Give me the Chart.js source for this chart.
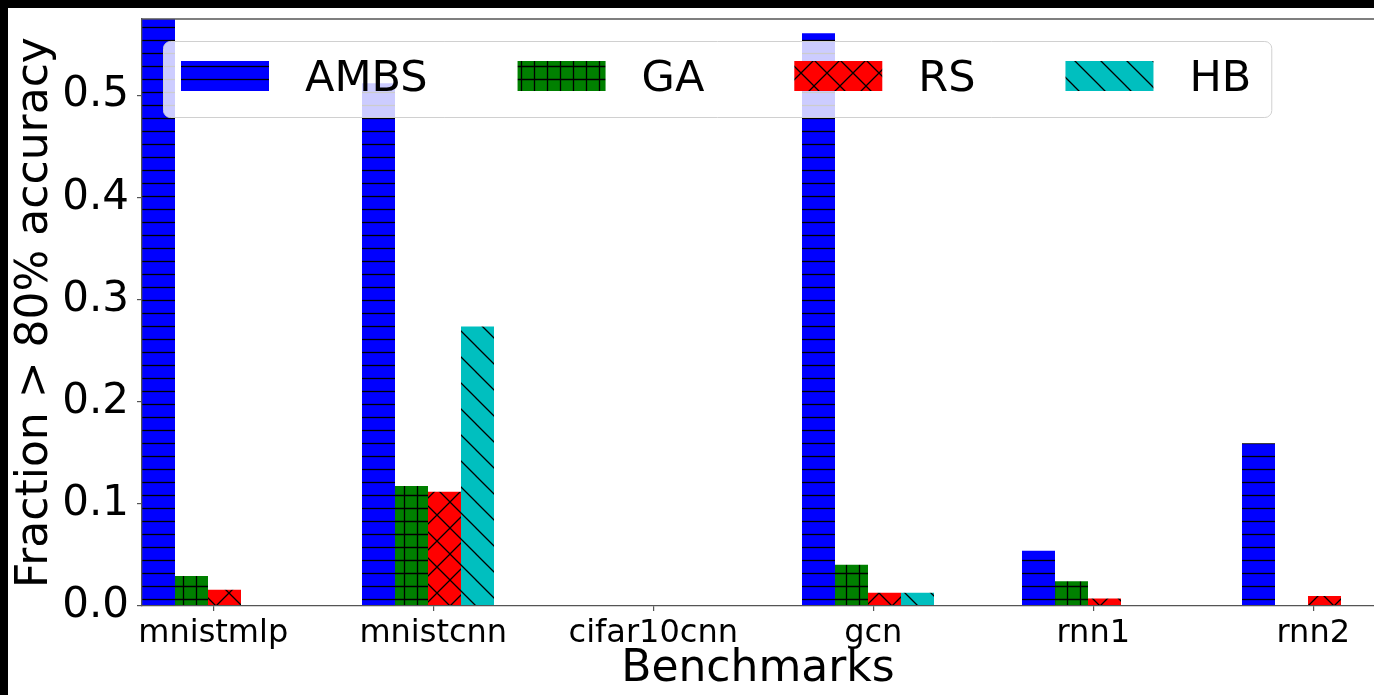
<!DOCTYPE html>
<html><head><meta charset="utf-8">
<script src="https://cdn.jsdelivr.net/npm/chart.js@4/dist/chart.umd.min.js"></script>
<style>
html,body{margin:0;padding:0;background:#000;overflow:hidden;width:100%;height:100%}
#wrap{position:absolute;left:8px;top:8px;width:1366px;height:687px;background:#fff}
canvas{display:block}
</style></head><body>
<div id="wrap"><canvas id="c" width="1366" height="687"></canvas></div>
<script>
const categories = ['mnistmlp', 'mnistcnn', 'cifar10cnn', 'gcn', 'rnn1', 'rnn2'];
const seriesNames = ['AMBS', 'GA', 'RS', 'HB'];
const ambs = [0.60, 0.512, 0, 0.561, 0.054, 0.1595];
const ga = [0.0295, 0.1176, 0, 0.0403, 0.0243, 0];
const rs = [0.0158, 0.1118, 0, 0.0131, 0.0073, 0.0099];
const hb = [0, 0.2737, 0, 0.0131, 0, 0];
const yTicks = [0, 0.1, 0.2, 0.3, 0.4, 0.5];
const yMax = 0.575;

function makePattern(color, kind) {
  const s = (kind === 'back' || kind === 'cross') ? 26 : 13;
  const c = document.createElement('canvas'); c.width = s; c.height = s;
  const g = c.getContext('2d');
  g.fillStyle = color; g.fillRect(0, 0, s, s);
  g.strokeStyle = '#000'; g.lineWidth = 1.3;
  g.beginPath();
  if (kind === 'h' || kind === 'grid') { g.moveTo(0, 6.5); g.lineTo(s, 6.5); }
  if (kind === 'grid') { g.moveTo(6.5, 0); g.lineTo(6.5, s); }
  if (kind === 'back' || kind === 'cross') {
    for (const k of [-s, 0, s]) { g.moveTo(k - 2, -2); g.lineTo(k + s + 2, s + 2); }
  }
  if (kind === 'cross') {
    for (const k of [-s, 0, s]) { g.moveTo(k - 2, s + 2); g.lineTo(k + s + 2, -2); }
  }
  g.stroke();
  return g.createPattern(c, 'repeat');
}
const fills = [makePattern('#0000ff', 'h'), makePattern('#008000', 'grid'), makePattern('#ff0000', 'cross'), makePattern('#00bfbf', 'back')];
const seriesValues = [ambs, ga, rs, hb];

const topSpine = {
  id: 'topSpine',
  afterDatasetsDraw(chart) {
    const {ctx, chartArea: a} = chart;
    ctx.save();
    ctx.strokeStyle = '#555'; ctx.lineWidth = 1.3;
    ctx.beginPath(); ctx.moveTo(a.left, a.top); ctx.lineTo(a.right, a.top); ctx.stroke();
    ctx.restore();
  }
};
const boxLegend = {
  id: 'boxLegend',
  afterDraw(chart) {
    const {ctx, chartArea: a} = chart;
    ctx.save();
    ctx.font = '43px "DejaVu Sans"';
    const pad = 18, padR = 20, pw = 88, ph = 30, gap = 36, col = 90;
    const items = chart.data.datasets.map(d => ({label: d.label, fill: d.backgroundColor, w: ctx.measureText(d.label).width}));
    let width = pad + padR;
    items.forEach((it, i) => { width += pw + gap + it.w + (i ? col : 0); });
    const x0 = a.left + 21, y0 = a.top + 22, h = 76;
    ctx.beginPath(); ctx.roundRect(x0 + 0.5, y0 + 0.5, width, h, 7);
    ctx.fillStyle = 'rgba(255,255,255,0.8)'; ctx.fill();
    ctx.strokeStyle = '#d0d0d0'; ctx.lineWidth = 1; ctx.stroke();
    let x = x0 + pad;
    items.forEach(it => {
      ctx.fillStyle = it.fill; ctx.fillRect(x, y0 + 20, pw, ph);
      ctx.fillStyle = '#000'; ctx.textBaseline = 'alphabetic';
      ctx.fillText(it.label, x + pw + gap, y0 + 50);
      x += pw + gap + it.w + col;
    });
    ctx.restore();
  }
};

const font = (size, lh) => ({family: 'DejaVu Sans', size: size, lineHeight: lh || 1.2});
new Chart(document.getElementById('c'), {
  type: 'bar',
  data: {
    datasets: seriesNames.map((n, k) => ({
      label: n,
      data: seriesValues[k].map((v, i) => ({x: i, y: v})),
      backgroundColor: fills[k],
      borderWidth: 0
    }))
  },
  options: {
    responsive: false, animation: false,
    layout: {padding: {top: 11, left: 0, right: 0, bottom: 0}},
    plugins: {legend: {display: false}, tooltip: {enabled: false}},
    datasets: {bar: {categoryPercentage: 0.6, barPercentage: 1}},
    scales: {
      x: {
        type: 'linear', offset: false, min: -0.3, max: categories.length - 1 + 0.3,
        afterBuildTicks(s) { s.ticks = categories.map((c, i) => ({value: i + 0.024})); },
        afterFit(s) { s.height = 89; s.paddingLeft = 0; s.paddingRight = 0; },
        ticks: {autoSkip: false, maxRotation: 0, minRotation: 0, padding: 3, color: '#000', font: font(32), callback: (v, i) => categories[i]},
        grid: {offset: false, drawOnChartArea: false, drawTicks: true, tickLength: 5, color: '#555', lineWidth: 1.2},
        border: {display: true, color: '#555', width: 1.3, z: 1},
        title: {display: true, text: 'Benchmarks', color: '#000', font: font(44, 1), padding: {top: 0, bottom: 3}}
      },
      y: {
        min: 0, max: yMax,
        afterBuildTicks(s) { s.ticks = yTicks.map(v => ({value: v})); },
        afterFit(s) { s.width = 134; s.paddingTop = 0; s.paddingBottom = 0; },
        ticks: {padding: 8, color: '#000', font: font(42), callback: v => v.toFixed(1)},
        grid: {drawOnChartArea: false, drawTicks: true, tickLength: 5, color: '#555', lineWidth: 1.2},
        border: {display: true, color: '#555', width: 1.3, z: 1},
        title: {display: true, text: 'Fraction > 80% accuracy', color: '#000', font: font(44, 1), padding: {top: 6, bottom: 0}}
      }
    }
  },
  plugins: [topSpine, boxLegend]
});
</script>
</body></html>
